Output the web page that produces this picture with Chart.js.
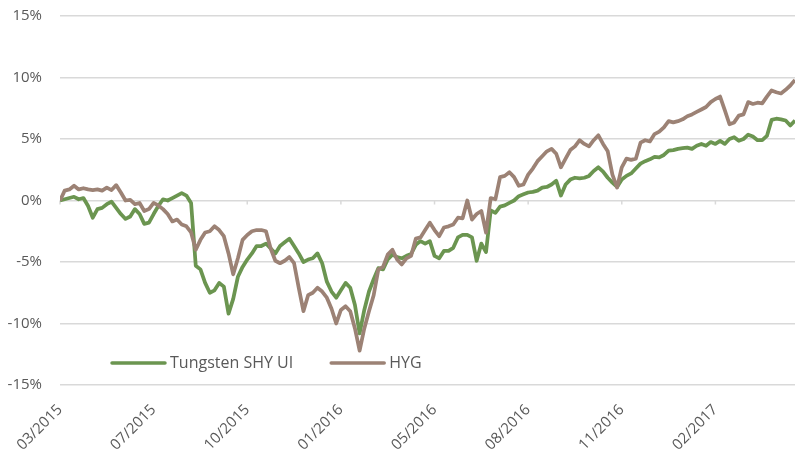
<!DOCTYPE html>
<html>
<head>
<meta charset="utf-8">
<script src="https://cdn.jsdelivr.net/npm/chart.js@4/dist/chart.umd.min.js"></script>
<style>
html,body{margin:0;padding:0;background:#ffffff;}
#wrap{width:795px;height:450px;position:relative;}
</style>
</head>
<body>
<div id="wrap"><canvas id="c" width="795" height="450"></canvas></div>
<script>
// Tick labels on the time axis (one every `tickEvery` observations)
const tickLabels = ['03/2015','07/2015','10/2015','01/2016','05/2016','08/2016','11/2016','02/2017'];
const tickEvery = 20;
const seriesNames = ['Tungsten SHY UI', 'HYG'];

// Cumulative return, %
const tungsten = [
  0.0, 0.1, 0.2, 0.3, 0.1, 0.2, -0.45, -1.4, -0.7, -0.6,
  -0.3, -0.1, -0.6, -1.1, -1.5, -1.3, -0.7, -1.1, -1.9, -1.8,
  -1.1, -0.45, 0.1, 0.0, 0.2, 0.4, 0.6, 0.4, -0.2, -5.3,
  -5.6, -6.7, -7.5, -7.3, -6.7, -7.0, -9.2, -8.0, -6.2, -5.4,
  -4.8, -4.3, -3.7, -3.7, -3.5, -3.9, -4.3, -3.7, -3.4, -3.1,
  -3.7, -4.3, -5.0, -4.8, -4.7, -4.3, -5.1, -6.6, -7.4, -7.9,
  -7.3, -6.7, -7.1, -8.5, -10.8, -8.9, -7.4, -6.4, -5.5, -5.6,
  -4.8, -4.4, -4.6, -4.7, -4.5, -4.35, -3.6, -3.3, -3.5, -3.3,
  -4.5, -4.7, -4.1, -4.1, -3.85, -3.0, -2.8, -2.8, -3.0, -4.9,
  -3.5, -4.2, -0.8, -1.0, -0.5, -0.4, -0.2, 0.0, 0.35, 0.5,
  0.65, 0.7, 0.8, 1.05, 1.1, 1.3, 1.6, 0.4, 1.3, 1.7,
  1.85, 1.8, 1.85, 2.0, 2.4, 2.7, 2.35, 1.85, 1.45, 1.1,
  1.7, 2.0, 2.2, 2.6, 3.0, 3.2, 3.35, 3.55, 3.5, 3.7,
  4.05, 4.1, 4.2, 4.25, 4.3, 4.2, 4.45, 4.6, 4.45, 4.75,
  4.6, 4.85, 4.6, 5.0, 5.15, 4.85, 5.0, 5.35, 5.2, 4.9,
  4.9, 5.25, 6.55, 6.65, 6.6, 6.5, 6.1, 6.5
];
const hyg = [
  0.0, 0.8, 0.9, 1.2, 0.9, 1.0, 0.9, 0.85, 0.9, 0.8,
  1.05, 0.85, 1.25, 0.65, 0.0, 0.05, -0.3, -0.2, -0.85, -0.7,
  -0.2, -0.4, -0.7, -1.1, -1.7, -1.55, -1.95, -2.1, -2.6, -4.0,
  -3.2, -2.6, -2.5, -2.1, -2.4, -2.9, -4.3, -6.0, -4.7, -3.2,
  -2.8, -2.5, -2.4, -2.4, -2.5, -3.9, -4.9, -5.1, -4.9, -4.6,
  -5.1, -7.1, -9.0, -7.7, -7.5, -7.1, -7.4, -7.9, -8.8, -10.0,
  -8.9, -8.6, -9.0, -10.4, -12.2, -10.4, -9.0, -7.7, -5.6, -5.4,
  -4.4, -4.0, -4.8, -5.2, -4.7, -4.5, -3.1, -3.0, -2.4, -1.8,
  -2.4, -2.9, -2.2, -2.1, -1.95, -1.4, -1.45, 0.0, -1.55, -1.1,
  -0.85, -2.6, 0.2, 0.1, 1.9, 2.0, 2.3, 1.9, 1.2, 1.3,
  2.1, 2.6, 3.2, 3.6, 4.0, 4.2, 3.8, 2.7, 3.4, 4.1,
  4.4, 4.9, 4.6, 4.4, 4.9, 5.3, 4.6, 4.0, 2.1, 1.05,
  2.7, 3.4, 3.3, 3.4, 4.7, 4.9, 4.8, 5.4, 5.6, 5.95,
  6.45, 6.35, 6.45, 6.6, 6.85, 7.0, 7.2, 7.4, 7.6, 8.0,
  8.25, 8.45, 7.35, 6.2, 6.35, 6.9, 7.0, 8.0, 7.85, 7.95,
  7.9, 8.45, 8.95, 8.8, 8.7, 9.0, 9.35, 9.8
];
const yMin = -15, yMax = 15, yStep = 5;

const GREEN = '#6b9550';
const BROWN = '#9c8275';
const TEXT = '#595959';
const GRID = '#d9d9d9';
const FONT = "'Open Sans', 'Noto Sans', sans-serif";

const toPoints = arr => arr.map((v, i) => ({x: i, y: v}));

const zeroTicks = {
  id: 'zeroTicks',
  beforeDatasetsDraw(chart) {
    const {ctx, scales: {x, y}} = chart;
    const y0 = y.getPixelForValue(0);
    ctx.save();
    ctx.strokeStyle = GRID;
    ctx.lineWidth = 1.5;
    x.ticks.forEach(t => {
      const px = x.getPixelForValue(t.value);
      ctx.beginPath();
      ctx.moveTo(px, y0);
      ctx.lineTo(px, y0 + 4);
      ctx.stroke();
    });
    ctx.restore();
  }
};

const inlineLegend = {
  id: 'inlineLegend',
  afterDraw(chart) {
    const {ctx, chartArea} = chart;
    const yy = chartArea.bottom - 22;
    let xx = chartArea.left + 52;
    ctx.save();
    ctx.font = '16px ' + FONT;
    ctx.textBaseline = 'middle';
    ctx.textAlign = 'left';
    chart.data.datasets.forEach(ds => {
      ctx.strokeStyle = ds.borderColor;
      ctx.lineWidth = 3.5;
      ctx.lineCap = 'round';
      ctx.beginPath();
      ctx.moveTo(xx, yy);
      ctx.lineTo(xx + 53, yy);
      ctx.stroke();
      ctx.fillStyle = TEXT;
      ctx.fillText(ds.label, xx + 58, yy);
      xx += 58 + ctx.measureText(ds.label).width + 38;
    });
    ctx.restore();
  }
};

new Chart(document.getElementById('c'), {
  type: 'line',
  data: {
    datasets: [
      {label: seriesNames[0], data: toPoints(tungsten), borderColor: GREEN, borderWidth: 3.75, pointRadius: 0, tension: 0, order: 1, borderJoinStyle: 'round'},
      {label: seriesNames[1], data: toPoints(hyg), borderColor: BROWN, borderWidth: 3.75, pointRadius: 0, tension: 0, order: 0, borderJoinStyle: 'round'}
    ]
  },
  options: {
    responsive: false,
    devicePixelRatio: 1,
    animation: false,
    layout: {padding: {top: 16, right: 0, bottom: 0, left: 0}},
    plugins: {legend: {display: false}, tooltip: {enabled: false}},
    scales: {
      x: {
        type: 'linear',
        min: 0,
        max: tungsten.length - 1,
        grid: {display: false},
        border: {display: false},
        afterFit(scale) { scale.height = 65; },
        ticks: {
          stepSize: tickEvery,
          includeBounds: false,
          autoSkip: false,
          maxRotation: 45,
          minRotation: 45,
          padding: 8,
          color: TEXT,
          font: {family: FONT, size: 15},
          callback: (v) => (v % tickEvery === 0 && tickLabels[v / tickEvery] !== undefined) ? tickLabels[v / tickEvery] : ''
        }
      },
      y: {
        min: yMin,
        max: yMax,
        grid: {color: GRID, lineWidth: 1.5, drawTicks: false},
        border: {display: false},
        afterFit(scale) { scale.width = 60; scale.paddingTop = 0; scale.paddingBottom = 0; },
        ticks: {
          stepSize: yStep,
          padding: 18,
          color: TEXT,
          font: {family: FONT, size: 15},
          callback: (v) => v + '%'
        }
      }
    }
  },
  plugins: [zeroTicks, inlineLegend]
});
</script>
</body>
</html>
